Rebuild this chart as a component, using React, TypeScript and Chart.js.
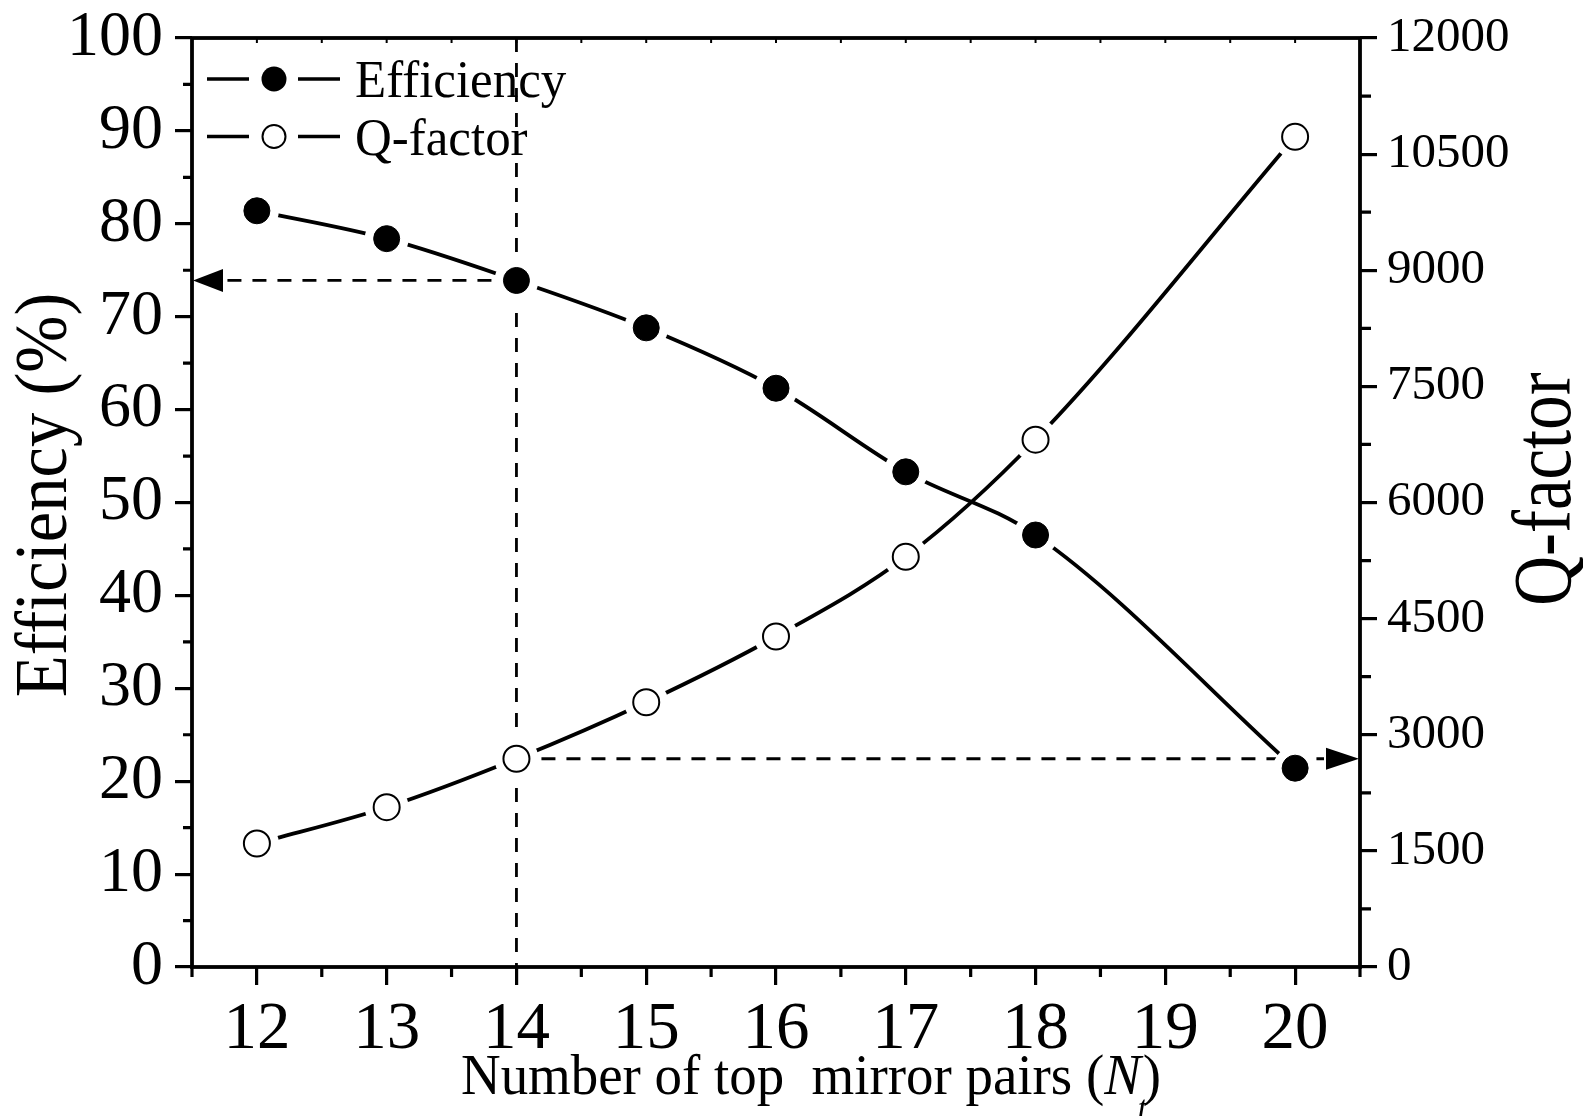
import React, { useEffect, useRef } from 'react';
import { Chart, registerables } from 'chart.js';

Chart.register(...registerables);

// ---------------- data ----------------
const topMirrorPairs = [12, 13, 14, 15, 16, 17, 18, 20];
const efficiencyPct = [81.4, 78.4, 73.9, 68.8, 62.3, 53.3, 46.5, 21.4];
const qFactor = [1595, 2064, 2690, 3420, 4269, 5298, 6811, 10724];

const xTickValues = [12, 13, 14, 15, 16, 17, 18, 19, 20];
const xMinorTicks = [11.5, 12.5, 13.5, 14.5, 15.5, 16.5, 17.5, 18.5, 19.5, 20.5];
const topInnerTicks = [12, 12.5, 13, 13.5, 14, 14.5, 15, 15.5, 16, 16.5, 17, 17.5, 18, 18.5, 19, 19.5, 20];
const effMinorTicks = [5, 15, 25, 35, 45, 55, 65, 75, 85, 95];
const qMinorTicks = [750, 2250, 3750, 5250, 6750, 8250, 9750, 11250];

const markedN = 14;
const legendLabels = ['Efficiency', 'Q-factor'];
const leftTitle = 'Efficiency (%)';
const rightTitle = 'Q-factor';
const xTitleMain = 'Number of top  mirror pairs (';
const xTitleVar = 'N';
const xTitleSub = 't';
const xTitleEnd = ')';

const SERIF = '"Liberation Serif", "Times New Roman", Times, serif';

const pts = (ys: number[]) => topMirrorPairs.map((x, i) => ({ x, y: ys[i] }));

function drawText(ctx: CanvasRenderingContext2D, text: string, x: number, y: number, font: string, sx: number, rot: number, align: CanvasTextAlign) {
  ctx.save();
  ctx.translate(x, y);
  if (rot) ctx.rotate(rot);
  ctx.scale(sx, 1);
  ctx.font = font;
  ctx.textAlign = align;
  ctx.textBaseline = 'alphabetic';
  ctx.fillStyle = '#000';
  ctx.fillText(text, 0, 0);
  ctx.restore();
}

const overlayPlugin = {
  id: 'overlay',
  beforeDatasetsDraw(chart: any) {
    const { ctx, chartArea: ca, scales } = chart;
    const i = topMirrorPairs.indexOf(markedN);
    const px = scales.x.getPixelForValue(markedN);
    const pyE = scales.y.getPixelForValue(efficiencyPct[i]);
    const pyQ = scales.y2.getPixelForValue(qFactor[i]);
    ctx.save();
    ctx.strokeStyle = '#000';
    ctx.lineWidth = 2.8;
    ctx.setLineDash([14, 11]);
    ctx.beginPath();
    ctx.moveTo(px, ca.top);
    ctx.lineTo(px, ca.bottom + 18);
    ctx.stroke();
    ctx.beginPath();
    ctx.moveTo(px, pyE);
    ctx.lineTo(ca.left + 32, pyE);
    ctx.stroke();
    ctx.beginPath();
    ctx.moveTo(px, pyQ);
    ctx.lineTo(ca.right - 36, pyQ);
    ctx.stroke();
    ctx.restore();
  },
  afterDatasetsDraw(chart: any) {
    const { ctx, chartArea: ca, scales } = chart;
    const i = topMirrorPairs.indexOf(markedN);
    const pyE = scales.y.getPixelForValue(efficiencyPct[i]);
    const pyQ = scales.y2.getPixelForValue(qFactor[i]);
    ctx.save();
    ctx.fillStyle = '#000';
    // arrow heads
    ctx.beginPath();
    ctx.moveTo(ca.left + 1, pyE);
    ctx.lineTo(ca.left + 31, pyE - 11.5);
    ctx.lineTo(ca.left + 31, pyE + 11.5);
    ctx.closePath();
    ctx.fill();
    ctx.beginPath();
    ctx.moveTo(ca.right - 1, pyQ);
    ctx.lineTo(ca.right - 34, pyQ - 11);
    ctx.lineTo(ca.right - 34, pyQ + 11);
    ctx.closePath();
    ctx.fill();

    // minor ticks
    ctx.strokeStyle = '#000';
    ctx.lineWidth = 3.2;
    ctx.beginPath();
    effMinorTicks.forEach((v) => {
      const p = scales.y.getPixelForValue(v);
      ctx.moveTo(ca.left - 9, p);
      ctx.lineTo(ca.left, p);
    });
    qMinorTicks.forEach((v) => {
      const p = scales.y2.getPixelForValue(v);
      ctx.moveTo(ca.right, p);
      ctx.lineTo(ca.right + 11, p);
    });
    xMinorTicks.forEach((v) => {
      const p = scales.x.getPixelForValue(v);
      ctx.moveTo(p, ca.bottom);
      ctx.lineTo(p, ca.bottom + 10);
    });
    ctx.stroke();
    ctx.lineWidth = 2;
    ctx.beginPath();
    topInnerTicks.forEach((v) => {
      const p = scales.x.getPixelForValue(v);
      ctx.moveTo(p, ca.top);
      ctx.lineTo(p, ca.top + 5);
    });
    ctx.stroke();
    // frame
    ctx.lineWidth = 3.8;
    ctx.strokeRect(ca.left, ca.top, ca.right - ca.left, ca.bottom - ca.top);
    ctx.restore();
  },
  afterDraw(chart: any) {
    const { ctx, chartArea: ca } = chart;
    // legend
    legendLabels.forEach((label, k) => {
      const ry = ca.top + 41 + k * 57.5;
      ctx.save();
      ctx.strokeStyle = '#000';
      ctx.lineWidth = 3.6;
      ctx.beginPath();
      ctx.moveTo(ca.left + 15, ry);
      ctx.lineTo(ca.left + 57, ry);
      ctx.moveTo(ca.left + 106, ry);
      ctx.lineTo(ca.left + 148, ry);
      ctx.stroke();
      ctx.beginPath();
      if (k === 0) {
        ctx.arc(ca.left + 82, ry, 12.5, 0, Math.PI * 2);
        ctx.fillStyle = '#000';
        ctx.fill();
      } else {
        ctx.arc(ca.left + 82, ry, 11.5, 0, Math.PI * 2);
        ctx.fillStyle = '#fff';
        ctx.fill();
        ctx.lineWidth = 2;
        ctx.stroke();
      }
      ctx.restore();
      drawText(ctx, label, ca.left + 163, ry + 18, `52px ${SERIF}`, 0.98, 0, 'left');
    });

    // left & right titles
    drawText(ctx, leftTitle, 66, 495, `73px ${SERIF}`, 0.94, -Math.PI / 2, 'center');
    drawText(ctx, rightTitle, 1570, 489, `82px ${SERIF}`, 0.84, -Math.PI / 2, 'center');

    // x title with italic N and subscript t
    ctx.save();
    ctx.translate(461, 1094);
    ctx.scale(0.98, 1);
    ctx.fillStyle = '#000';
    ctx.textBaseline = 'alphabetic';
    ctx.textAlign = 'left';
    ctx.font = `56px ${SERIF}`;
    ctx.fillText(xTitleMain, 0, 0);
    const w1 = ctx.measureText(xTitleMain).width;
    ctx.font = `italic 56px ${SERIF}`;
    ctx.fillText(xTitleVar, w1, 0);
    const wN = ctx.measureText(xTitleVar).width;
    ctx.font = `56px ${SERIF}`;
    ctx.fillText(xTitleEnd, w1 + wN + 2, 0);
    ctx.font = `italic 34px ${SERIF}`;
    ctx.fillText(xTitleSub, w1 + wN - 3, 25);
    ctx.restore();
  },
};

const zeroPadding = (scale: any) => {
  scale.paddingTop = 0;
  scale.paddingBottom = 0;
  scale.paddingLeft = 0;
  scale.paddingRight = 0;
};

export default function App() {
  const ref = useRef<HTMLCanvasElement>(null);

  useEffect(() => {
    if (!ref.current) return;
    const tickGrid = {
      display: true,
      drawOnChartArea: false,
      drawTicks: true,
      tickLength: 17,
      tickWidth: 3.2,
      tickColor: '#000',
      color: '#000',
      lineWidth: 3.2,
    };
    const chart = new Chart(ref.current, {
      type: 'line',
      data: {
        datasets: [
          {
            label: legendLabels[0],
            data: pts(efficiencyPct),
            yAxisID: 'y',
            borderColor: '#000',
            borderWidth: 3.8,
            pointRadius: 0,
            cubicInterpolationMode: 'monotone',
            fill: false,
            order: 5,
          },
          {
            label: legendLabels[1],
            data: pts(qFactor),
            yAxisID: 'y2',
            borderColor: '#000',
            borderWidth: 3.8,
            pointRadius: 0,
            cubicInterpolationMode: 'monotone',
            fill: false,
            order: 5,
          },
          {
            label: 'halo-e',
            data: pts(efficiencyPct),
            yAxisID: 'y',
            showLine: false,
            pointRadius: 22,
            pointBackgroundColor: '#fff',
            pointBorderColor: '#fff',
            pointBorderWidth: 0,
            order: 3,
          },
          {
            label: 'halo-q',
            data: pts(qFactor),
            yAxisID: 'y2',
            showLine: false,
            pointRadius: 22,
            pointBackgroundColor: '#fff',
            pointBorderColor: '#fff',
            pointBorderWidth: 0,
            order: 3,
          },
          {
            label: 'mark-e',
            data: pts(efficiencyPct),
            yAxisID: 'y',
            showLine: false,
            pointRadius: 13,
            pointBackgroundColor: '#000',
            pointBorderColor: '#000',
            pointBorderWidth: 1,
            order: 1,
          },
          {
            label: 'mark-q',
            data: pts(qFactor),
            yAxisID: 'y2',
            showLine: false,
            pointRadius: 13,
            pointBackgroundColor: '#fff',
            pointBorderColor: '#000',
            pointBorderWidth: 2,
            order: 1,
          },
        ],
      },
      options: {
        responsive: false,
        maintainAspectRatio: false,
        animation: false,
        events: [],
        layout: { padding: { top: 38, left: 0, right: 0, bottom: 0 } },
        plugins: {
          legend: { display: false },
          tooltip: { enabled: false },
          title: { display: false },
        },
        scales: {
          x: {
            type: 'linear',
            min: 11.5,
            max: 20.5,
            grid: { ...tickGrid, tickLength: 18 },
            border: { display: false },
            afterBuildTicks: (scale: any) => {
              scale.ticks = xTickValues.map((v) => ({ value: v }));
            },
            afterFit: (scale: any) => {
              scale.height = 149;
              zeroPadding(scale);
            },
            ticks: {
              autoSkip: false,
              maxRotation: 0,
              minRotation: 0,
              padding: 5,
              color: '#000',
              font: { family: SERIF, size: 67 },
              callback: (v: any) => String(v),
            },
          },
          y: {
            type: 'linear',
            position: 'left',
            min: 0,
            max: 100,
            grid: tickGrid,
            border: { display: false },
            afterFit: (scale: any) => {
              scale.width = 192;
              zeroPadding(scale);
            },
            ticks: {
              stepSize: 10,
              padding: 12,
              color: '#000',
              font: { family: SERIF, size: 64 },
              callback: (v: any) => String(v),
            },
          },
          y2: {
            type: 'linear',
            position: 'right',
            min: 0,
            max: 12000,
            grid: tickGrid,
            border: { display: false },
            afterFit: (scale: any) => {
              scale.width = 223;
              zeroPadding(scale);
            },
            ticks: {
              stepSize: 1500,
              padding: 10,
              color: '#000',
              font: { family: SERIF, size: 49 },
              callback: (v: any) => String(v),
            },
          },
        },
      } as any,
      plugins: [overlayPlugin],
    });
    return () => chart.destroy();
  }, []);

  return (
    <div style={{ position: 'absolute', left: 0, top: 0, width: 1583, height: 1116, background: '#fff' }}>
      <canvas ref={ref} width={1583} height={1116} style={{ display: 'block', width: 1583, height: 1116 }} />
    </div>
  );
}
